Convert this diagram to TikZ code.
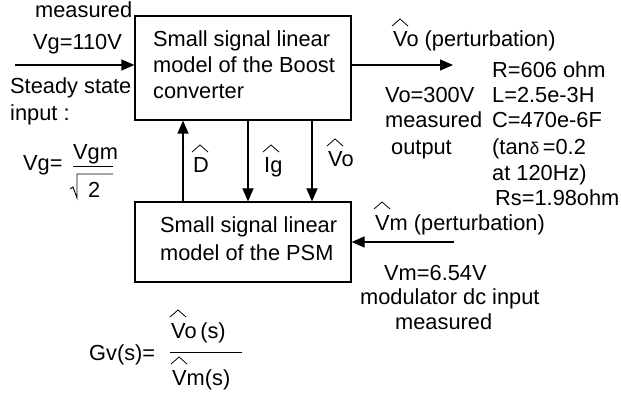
\documentclass[tikz,border=0pt]{standalone}
\usepackage{fontspec}
\setmainfont{Liberation Sans}
\usetikzlibrary{arrows.meta}
\tikzset{
  lbl/.style={anchor=base west, inner sep=0pt, font=\fontsize{21.8}{26}\selectfont},
  blk/.style={draw, line width=1.2pt, inner sep=0pt},
  arr/.style={line width=1.2pt, -{Triangle[length=13pt,width=11pt]}},
  hatline/.style={line width=0.8pt},
  bar/.style={line width=1pt}
}
\newcommand\hatover[1]{\draw[hatline] ([shift={(-1,21)}]#1.base west) -- ([shift={(7,28)}]#1.base west) -- ([shift={(15,21)}]#1.base west);}
\begin{document}
\begin{tikzpicture}[x=1pt,y=1pt]
\useasboundingbox (0,0) rectangle (621,-398);
% blocks
\node[blk, minimum width=216pt, minimum height=104pt] (box1) at (243,-68) {};
\node[blk, minimum width=216pt, minimum height=80pt] (box2) at (243,-242) {};
\node[lbl] (b1a) at (153,-47) {Small signal linear};
\node[lbl] (b1b) at (153,-73) {model of the Boost};
\node[lbl] (b1c) at (153,-99) {converter};
\node[lbl] (b2a) at (160,-233) {Small signal linear};
\node[lbl] (b2b) at (160,-260) {model of the PSM};
% left texts
\node[lbl] (meas1) at (35,-18) {measured};
\node[lbl] (vg110) at (33,-50) {Vg=110V};
\node[lbl] (steady) at (10,-94) {Steady state};
\node[lbl] (inp) at (10,-121) {input :};
\node[lbl] (vgeq) at (23,-171) {Vg=};
\node[lbl] (vgm) at (73,-160) {Vgm};
\node[lbl] (two) at (88,-198) {2};
\coordinate (fb1) at (73,-167);
\coordinate (fb2) at (113,-167);
\draw[bar] (fb1) -- (fb2);
\coordinate (sq1) at (70,-189);
\coordinate (sq2) at (73,-187);
\coordinate (sq3) at (77,-198);
\coordinate (sq4) at (77,-174);
\coordinate (sq5) at (113,-174);
\draw[line width=0.9pt] (sq1) -- (sq2) -- (sq3) -- (sq4) -- (sq5);
% arrows between blocks
\coordinate (dx) at (183,0);
\coordinate (ix) at (248,0);
\coordinate (vx) at (312,0);
\draw[arr] (dx |- box2.north) -- (dx |- box1.south);
\draw[arr] (ix |- box1.south) -- (ix |- box2.north);
\draw[arr] (vx |- box1.south) -- (vx |- box2.north);
\node[lbl] (dl) at (193,-173) {D};
\node[lbl] (igl) at (264,-173) {Ig};
\node[lbl] (vol) at (328,-167) {Vo};
\hatover{dl}
\hatover{igl}
\hatover{vol}
% input / output arrows
\coordinate (inL) at (15,-65);
\draw[arr] (inL) -- (inL -| box1.west);
\coordinate (outR) at (453,-65);
\draw[arr] (box1.east |- outR) -- (outR);
\node[lbl] (vop) at (393,-47) {Vo (perturbation)};
\hatover{vop}
\node[lbl] (vo300) at (385,-103) {Vo=300V};
\node[lbl] (meas2) at (385,-128) {measured};
\node[lbl] (outp) at (391,-155) {output};
\node[lbl] (rr) at (492,-78) {R=606 ohm};
\node[lbl] (ll) at (492,-103) {L=2.5e-3H};
\node[lbl] (cc) at (492,-128) {C=470e-6F};
\node[lbl] (tand) at (492,-155) {(tan{\fontsize{17}{20}\selectfont δ}\,=0.2};
\node[lbl] (at120) at (492,-181) {at 120Hz)};
\node[lbl] (rs) at (495,-206) {Rs=1.98ohm};
% Vm input
\coordinate (vmR) at (454,-242);
\draw[arr] (vmR) -- (vmR -| box2.east);
\node[lbl] (vmp) at (375,-230) {Vm (perturbation)};
\hatover{vmp}
\node[lbl] (vm654) at (384,-280) {Vm=6.54V};
\node[lbl] (moddc) at (360,-304) {modulator dc input};
\node[lbl] (meas3) at (395,-329) {measured};
% transfer function
\node[lbl] (gv) at (89,-360) {Gv(s)=};
\node[lbl] (vos) at (171,-338) {Vo\,(s)};
\node[lbl] (vms) at (172,-385) {Vm(s)};
\hatover{vos}
\hatover{vms}
\coordinate (gb1) at (170,-352);
\coordinate (gb2) at (242,-352);
\draw[bar] (gb1) -- (gb2);
\end{tikzpicture}
\end{document}
